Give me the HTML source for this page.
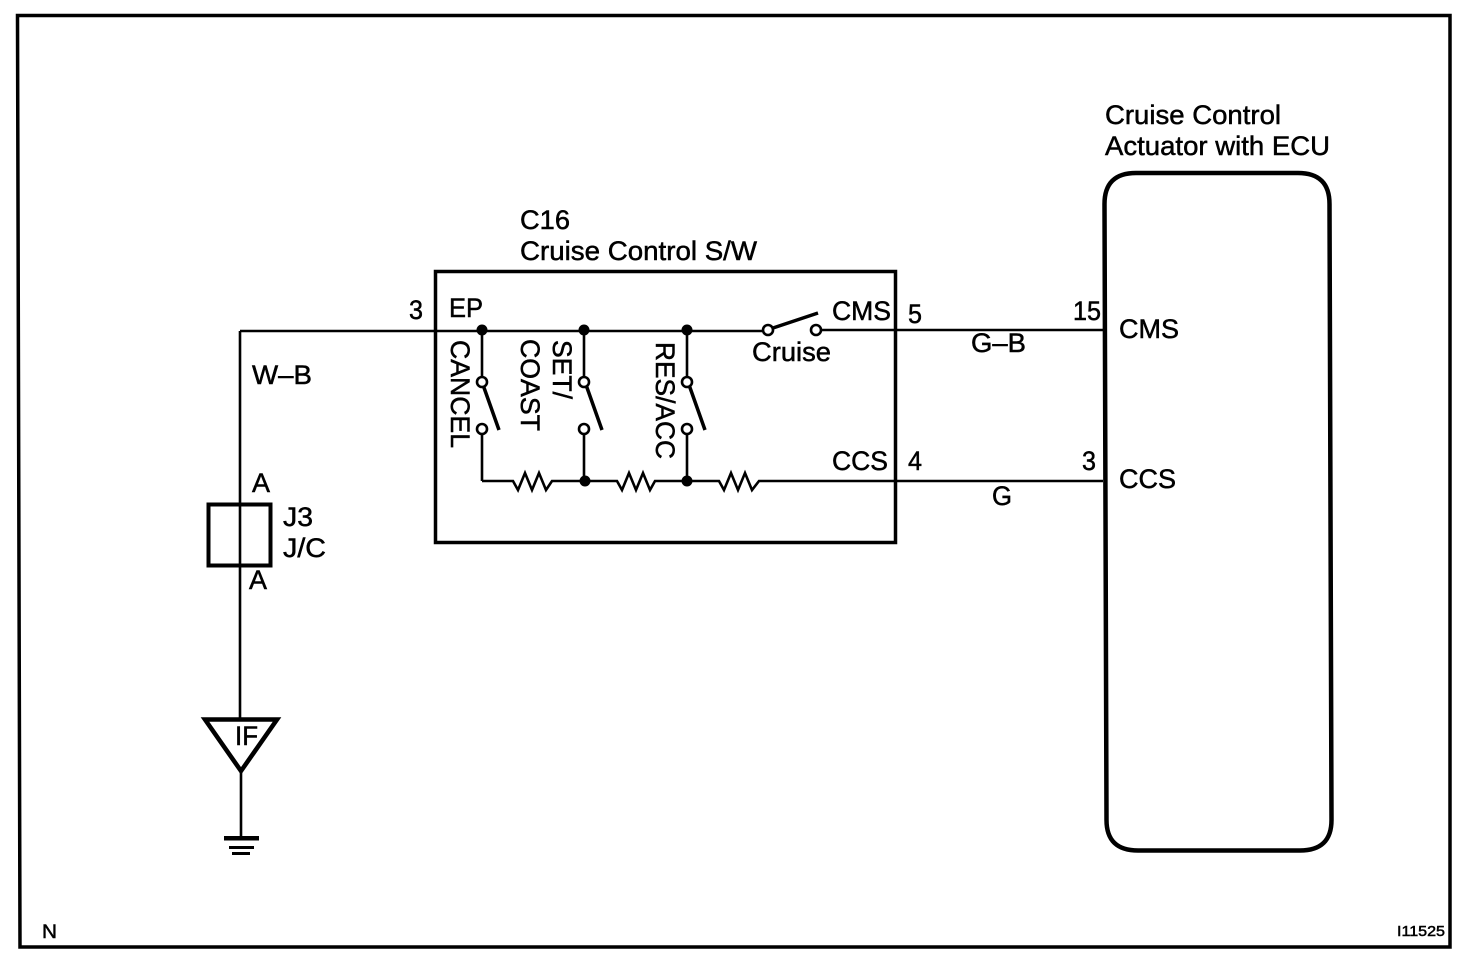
<!DOCTYPE html>
<html><head><meta charset="utf-8"><style>
html,body{margin:0;padding:0;background:#fff}
svg{display:block}
text{font-family:"Liberation Sans",Arial,sans-serif;font-size:27px;fill:#000;stroke:#000;stroke-width:.5px}
</style></head><body>
<svg width="1472" height="968" viewBox="0 0 1472 968" xmlns="http://www.w3.org/2000/svg">
<rect width="1472" height="968" fill="#fff"/>
<g fill="none" stroke="#000" stroke-linejoin="miter">
<path d="M17.500 15.500H1450V947H20Z" stroke-width="3.500"/>
<rect x="435.500" y="271.500" width="460" height="271" stroke-width="3.500"/>
<path d="M1104.500 204Q1104.500 173 1136 173H1298Q1329.500 173 1329.500 204L1331.500 820Q1331.500 850.500 1300 850.500H1138Q1106.500 850.500 1106.500 820Z" stroke-width="4.500"/>
<rect x="208.500" y="504.500" width="62" height="61" stroke-width="4"/>
<path d="M205 719.500H277L241 771Z" stroke-width="4.500"/>
<path d="M240 331H763M821 330H1103M482 481H513L518 490 525 473 532 490 539 473 546 490 552 481H617L622 490 629 473 636 490 643 473 650 490 655 481H719L724 490 731 473 738 490 745 473 752 490 759 481H1103" stroke-width="2.600"/>
<path d="M240 331V718M241 772V838M482 331V376M482 434V481M584 331V376M584 434V481M687 331V376M687 434V481" stroke-width="2.600"/>
<path d="M773 328L818 313M482 382L499 430M585 382L602 430M688 382L705 430" stroke-width="3.500"/>
<g stroke-width="2.600" fill="#fff">
<circle cx="482" cy="382" r="5"/><circle cx="482" cy="429" r="5"/>
<circle cx="584" cy="382" r="5"/><circle cx="584" cy="429" r="5"/>
<circle cx="687" cy="382" r="5"/><circle cx="687" cy="429" r="5"/>
<circle cx="768" cy="330" r="5"/><circle cx="816" cy="330" r="5"/>
</g>
</g>
<g fill="#000">
<circle cx="482" cy="330" r="5.500"/><circle cx="584" cy="330" r="5.500"/><circle cx="687" cy="330" r="5.500"/>
<circle cx="585" cy="481" r="5.500"/><circle cx="687" cy="481" r="5.500"/>
<rect x="224" y="836" width="35" height="4.500"/><rect x="229" y="846" width="25" height="3"/><rect x="232" y="852" width="18" height="3"/>
</g>
<text x="1105" y="124" textLength="176" lengthAdjust="spacingAndGlyphs">Cruise Control</text>
<text x="1105" y="155" textLength="225" lengthAdjust="spacingAndGlyphs">Actuator with ECU</text>
<text x="520" y="229" textLength="50" lengthAdjust="spacingAndGlyphs">C16</text>
<text x="520" y="260" textLength="237" lengthAdjust="spacingAndGlyphs">Cruise Control S/W</text>
<text x="449" y="317" textLength="34" lengthAdjust="spacingAndGlyphs">EP</text>
<text x="409" y="319" textLength="14" lengthAdjust="spacingAndGlyphs">3</text>
<text x="832" y="320" textLength="59" lengthAdjust="spacingAndGlyphs">CMS</text>
<text x="908" y="323" textLength="14" lengthAdjust="spacingAndGlyphs">5</text>
<text x="752" y="361" textLength="79" lengthAdjust="spacingAndGlyphs">Cruise</text>
<text x="971" y="352" textLength="55" lengthAdjust="spacingAndGlyphs">G–B</text>
<text x="1073" y="320" textLength="28" lengthAdjust="spacingAndGlyphs">15</text>
<text x="1119" y="338" textLength="60" lengthAdjust="spacingAndGlyphs">CMS</text>
<text x="832" y="470" textLength="56" lengthAdjust="spacingAndGlyphs">CCS</text>
<text x="908" y="470" textLength="14" lengthAdjust="spacingAndGlyphs">4</text>
<text x="992" y="505" textLength="20" lengthAdjust="spacingAndGlyphs">G</text>
<text x="1082" y="470" textLength="14" lengthAdjust="spacingAndGlyphs">3</text>
<text x="1119" y="488" textLength="57" lengthAdjust="spacingAndGlyphs">CCS</text>
<text x="252" y="384" textLength="60" lengthAdjust="spacingAndGlyphs">W–B</text>
<text x="252" y="492" textLength="18" lengthAdjust="spacingAndGlyphs">A</text>
<text x="283" y="526" textLength="30" lengthAdjust="spacingAndGlyphs">J3</text>
<text x="283" y="557" textLength="43" lengthAdjust="spacingAndGlyphs">J/C</text>
<text x="249" y="589" textLength="18" lengthAdjust="spacingAndGlyphs">A</text>
<text x="235" y="745" textLength="23" lengthAdjust="spacingAndGlyphs">IF</text>
<text transform="translate(451 340) rotate(90)" textLength="108" lengthAdjust="spacingAndGlyphs">CANCEL</text>
<text transform="translate(553 340) rotate(90)" textLength="59" lengthAdjust="spacingAndGlyphs">SET/</text>
<text transform="translate(521 339) rotate(90)" textLength="92" lengthAdjust="spacingAndGlyphs">COAST</text>
<text transform="translate(656 342) rotate(90)" textLength="117" lengthAdjust="spacingAndGlyphs">RES/ACC</text>
<text x="42" y="938" style="font-size:19px" textLength="15" lengthAdjust="spacingAndGlyphs">N</text>
<text x="1397" y="936" style="font-size:15px" textLength="48" lengthAdjust="spacingAndGlyphs">I11525</text>
</svg>
</body></html>
